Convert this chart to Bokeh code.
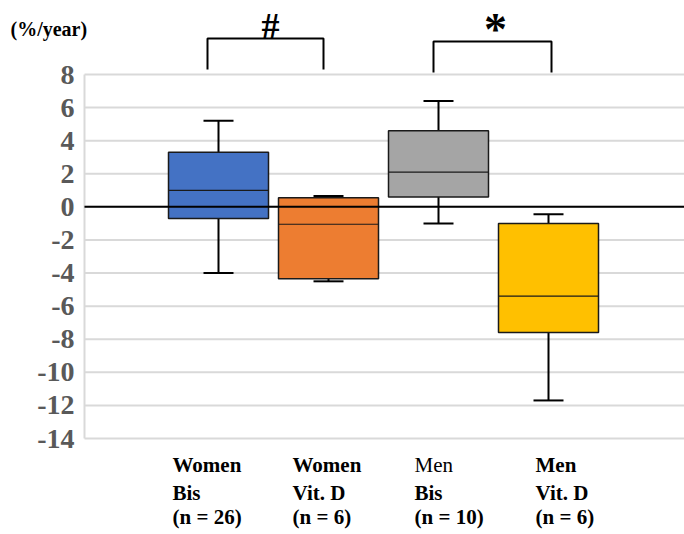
from bokeh.plotting import figure
from bokeh.models import Range1d, ColumnDataSource
from bokeh.core.properties import value
from bokeh.embed import file_html
from bokeh.resources import INLINE

# ---- data ----
groups = ["Women Bis", "Women Vit. D", "Men Bis", "Men Vit. D"]
label_line1 = ["Women", "Women", "Men", "Men"]
label_line2 = ["Bis", "Vit. D", "Bis", "Vit. D"]
label_line3 = ["(n = 26)", "(n = 6)", "(n = 10)", "(n = 6)"]
line1_bold = [True, True, False, True]
whisker_low = [-4.0, -4.5, -1.0, -11.7]
q1 = [-0.7, -4.35, 0.6, -7.6]
median = [1.0, -1.05, 2.1, -5.4]
q3 = [3.3, 0.55, 4.6, -1.0]
whisker_high = [5.2, 0.65, 6.4, -0.45]
colors = ["#4472C4", "#ED7D31", "#A5A5A5", "#FFC000"]
y_ticks = [-14, -12, -10, -8, -6, -4, -2, 0, 2, 4, 6, 8]
sig_pairs = [(0, 1), (2, 3)]
sig_marks = ["#", "*"]
y_unit_label = "(%/year)"

SERIF = value("Liberation Serif")

# ---- layout helpers (canvas pixels -> data) ----
W, H = 684, 534
PX_X = 110.0                    # px per category step
PX_Y = 364.0 / 22.0             # px per y unit
X0 = 1 - 218 / PX_X             # data x at canvas px 0
Y0 = 8 + 74 / PX_Y              # data y at canvas px 0 (top)


def X(px):
    return X0 + px / PX_X


def Y(py):
    return Y0 - py / PX_Y


xs = [1, 2, 3, 4]
plot_left, plot_right = X(84), X(W)

p = figure(width=W, height=H, output_backend="svg", toolbar_location=None,
           x_range=Range1d(X0, X(W)), y_range=Range1d(Y(H), Y0),
           min_border=0, min_border_left=0, min_border_right=0,
           min_border_top=0, min_border_bottom=0)
p.outline_line_color = None
p.axis.visible = False
p.grid.visible = False

# gridlines
p.segment(x0=[plot_left] * len(y_ticks), y0=y_ticks, x1=[plot_right] * len(y_ticks),
          y1=y_ticks, line_color="#d9d9d9", line_width=2)
# left axis line
p.segment(x0=[plot_left], y0=[y_ticks[0]], x1=[plot_left], y1=[y_ticks[-1]],
          line_color="#d9d9d9", line_width=2)
# tick labels
p.text(x=[X(74)] * len(y_ticks), y=y_ticks, text=[str(t) for t in y_ticks],
       text_align="right", text_baseline="middle", text_font=SERIF,
       text_font_style="bold", text_font_size="28px", text_color="#595959")

bw = 100 / PX_X
cw = 30 / PX_X
src = ColumnDataSource(dict(x=xs, q1=q1, q3=q3, med=median, lo=whisker_low,
                            hi=whisker_high, color=colors,
                            xl=[x - bw / 2 for x in xs], xr=[x + bw / 2 for x in xs],
                            cl=[x - cw / 2 for x in xs], cr=[x + cw / 2 for x in xs]))
# whiskers
p.segment(x0="x", y0="q3", x1="x", y1="hi", source=src, line_color="black", line_width=2)
p.segment(x0="x", y0="q1", x1="x", y1="lo", source=src, line_color="black", line_width=2)
p.segment(x0="cl", y0="hi", x1="cr", y1="hi", source=src, line_color="black", line_width=2)
p.segment(x0="cl", y0="lo", x1="cr", y1="lo", source=src, line_color="black", line_width=2)
# boxes
p.vbar(x="x", width=bw, bottom="q1", top="q3", source=src, fill_color="color",
       line_color="#1a1a1a", line_width=1.5)
p.segment(x0="xl", y0="med", x1="xr", y1="med", source=src, line_color="#1a1a1a",
          line_width=1.2)

# zero line
p.segment(x0=[plot_left], y0=[0], x1=[plot_right], y1=[0], line_color="black",
          line_width=2)

# significance brackets
leg_offsets = [(-11, -5), (-5, 3)]
top_y = [Y(38), Y(41)]
bot_y = [Y(69), Y(72)]
bx, by = [], []
for (a, b), (oa, ob), t, bt in zip(sig_pairs, leg_offsets, top_y, bot_y):
    xa = xs[a] + oa / PX_X
    xb = xs[b] + ob / PX_X
    bx.append([xa, xa, xb, xb])
    by.append([bt, t, t, bt])
p.multi_line(xs=bx, ys=by, line_color="black", line_width=2)
mid = [(xs[a] + xs[b]) / 2 for a, b in sig_pairs]
p.text(x=[mid[0] - 3 / PX_X], y=[Y(25.5)], text=[sig_marks[0]], text_align="center",
       text_baseline="middle", text_font=SERIF,
       text_font_style="bold", text_font_size="36px", text_color="black")
p.text(x=[mid[1] + 2 / PX_X], y=[Y(29)], text=[sig_marks[1]], text_align="center",
       text_baseline="middle", text_font=SERIF,
       text_font_style="bold", text_font_size="46px", text_color="black")

# y unit label
p.text(x=[X(10)], y=[Y(28)], text=[y_unit_label], text_align="left",
       text_baseline="middle", text_font=SERIF,
       text_font_style="bold", text_font_size="20px", text_color="black")

# category labels
left_px = [172, 292, 414, 535]
mid_px = [464, 492.5, 516.5]
for i in range(4):
    xl = X(left_px[i])
    lines = [label_line1[i], label_line2[i], label_line3[i]]
    styles = ["bold" if line1_bold[i] else "normal", "bold", "bold"]
    for line, mpx, st in zip(lines, mid_px, styles):
        p.text(x=[xl], y=[Y(mpx)], text=[line], text_align="left",
               text_baseline="middle", text_font=SERIF,
               text_font_style=st, text_font_size="21px", text_color="black")

open("out.html", "w").write(file_html(p, INLINE))
